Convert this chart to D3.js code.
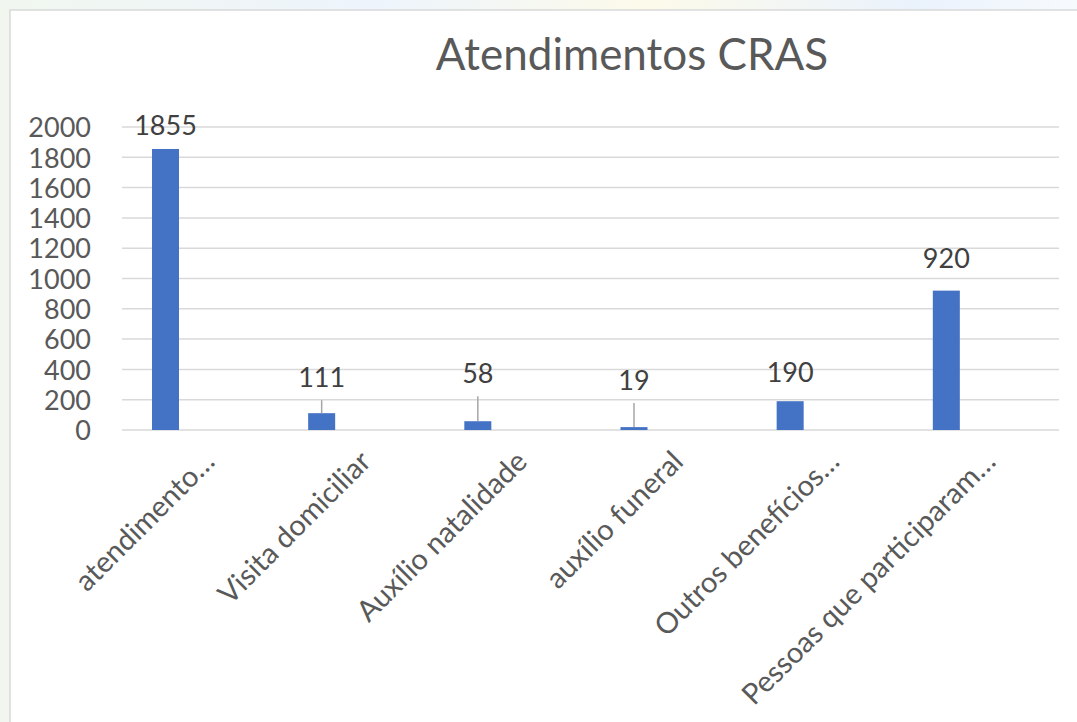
<!DOCTYPE html>
<html>
<head>
<meta charset="utf-8">
<script src="https://cdn.jsdelivr.net/npm/d3@7"></script>
<style>
  body { margin: 0; background: #fff; }
  svg { display: block; }
</style>
</head>
<body>
<div id="chart"></div>
<script>
// Data
var categories = ["atendimento…", "Visita domiciliar", "Auxílio natalidade", "auxílio funeral", "Outros benefícios…", "Pessoas que participaram…"];
var values = [1855, 111, 58, 19, 190, 920];
var yTicks = [0, 200, 400, 600, 800, 1000, 1200, 1400, 1600, 1800, 2000];
// how far each data label sits above its bar (label was dragged in the original)
var labelLift = [14, 26, 38, 37, 19, 23];

var svgWidth = 1077;
var svgHeight = 722;
var font = "Lato, 'Open Sans', sans-serif";

var svg = d3.select("#chart")
  .append("svg")
  .attr("width", svgWidth)
  .attr("height", svgHeight);

// faint background picture behind the chart frame
var defs = svg.append("defs");
var grad = defs.append("linearGradient").attr("id", "bg").attr("x1", 0).attr("x2", 1).attr("y1", 0).attr("y2", 0);
grad.append("stop").attr("offset", "0%").attr("stop-color", "#f1f7ef");
grad.append("stop").attr("offset", "35%").attr("stop-color", "#edf4fc");
grad.append("stop").attr("offset", "60%").attr("stop-color", "#fcfaea");
grad.append("stop").attr("offset", "85%").attr("stop-color", "#eaf2fc");
grad.append("stop").attr("offset", "100%").attr("stop-color", "#f7fafd");
svg.append("rect")
  .attr("width", svgWidth).attr("height", svgHeight)
  .attr("fill", "url(#bg)");

// chart area
svg.append("rect")
  .attr("x", 10).attr("y", 10)
  .attr("width", 1200).attr("height", 900)
  .attr("fill", "#fff")
  .attr("stroke", "#d9d9d9")
  .attr("stroke-width", 1.5);

var plot = { left: 122, right: 1059, top: 127, bottom: 430 };

var x = d3.scaleBand()
  .domain(categories)
  .range([plot.left, plot.right])
  .padding(0);

var y = d3.scaleLinear()
  .domain([0, 2000])
  .range([plot.bottom, plot.top]);

// gridlines
svg.append("g")
  .selectAll("line")
  .data(yTicks)
  .enter()
  .append("line")
  .attr("x1", plot.left)
  .attr("x2", plot.right)
  .attr("y1", d => y(d))
  .attr("y2", d => y(d))
  .attr("stroke", "#d9d9d9")
  .attr("stroke-width", 1.5);

// y axis labels
var leftAxis = d3.axisLeft(y).tickValues(yTicks).tickFormat(d3.format("d")).tickSize(0).tickPadding(0);
var yAxis = svg.append("g")
  .attr("transform", "translate(91,0)")
  .call(leftAxis);
yAxis.select(".domain").remove();
yAxis.selectAll("text")
  .style("font-family", font)
  .style("font-size", "27px")
  .attr("fill", "#595959")
  .attr("dy", "0.36em");

// bars
var bw = x.bandwidth();
var barOffset = bw * 0.192;
var barWidth = bw * 0.173;
var barMid = i => x(categories[i]) + barOffset + barWidth / 2;

svg.append("g")
  .selectAll("rect")
  .data(values)
  .enter()
  .append("rect")
  .attr("x", (d, i) => x(categories[i]) + barOffset)
  .attr("width", barWidth)
  .attr("y", d => y(d))
  .attr("height", d => y(0) - y(d))
  .attr("fill", "#4472c4");

// leader lines for dragged labels
var leaders = values.map((v, i) => ({ v: v, i: i })).filter(d => labelLift[d.i] > 24);
svg.append("g")
  .selectAll("line")
  .data(leaders)
  .enter()
  .append("line")
  .attr("x1", d => barMid(d.i))
  .attr("x2", d => barMid(d.i))
  .attr("y1", d => y(d.v) - labelLift[d.i] + 13)
  .attr("y2", d => y(d.v))
  .attr("stroke", "#a6a6a6")
  .attr("stroke-width", 1.5);

// data labels
svg.append("g")
  .selectAll("text")
  .data(values)
  .enter()
  .append("text")
  .attr("x", (d, i) => barMid(i))
  .attr("y", (d, i) => y(d) - labelLift[i])
  .attr("text-anchor", "middle")
  .style("font-family", font)
  .style("font-size", "27px")
  .attr("fill", "#404040")
  .text(d => d);

// category labels
var bottomAxis = d3.axisBottom(x).tickSize(0).tickPadding(0);
var xAxis = svg.append("g")
  .attr("transform", `translate(0, ${plot.bottom})`)
  .call(bottomAxis);
xAxis.select(".domain").remove();
xAxis.selectAll("text")
  .style("font-family", font)
  .style("font-size", "29px")
  .attr("fill", "#595959")
  .attr("text-anchor", "end")
  .attr("y", 0)
  .attr("dy", "0.7em")
  .attr("transform", "translate(2, 19) rotate(-45)");

// title
svg.append("text")
  .attr("x", 632)
  .attr("y", 70)
  .attr("text-anchor", "middle")
  .style("font-family", font)
  .style("font-size", "44px")
  .attr("fill", "#595959")
  .text("Atendimentos CRAS");
</script>
</body>
</html>
